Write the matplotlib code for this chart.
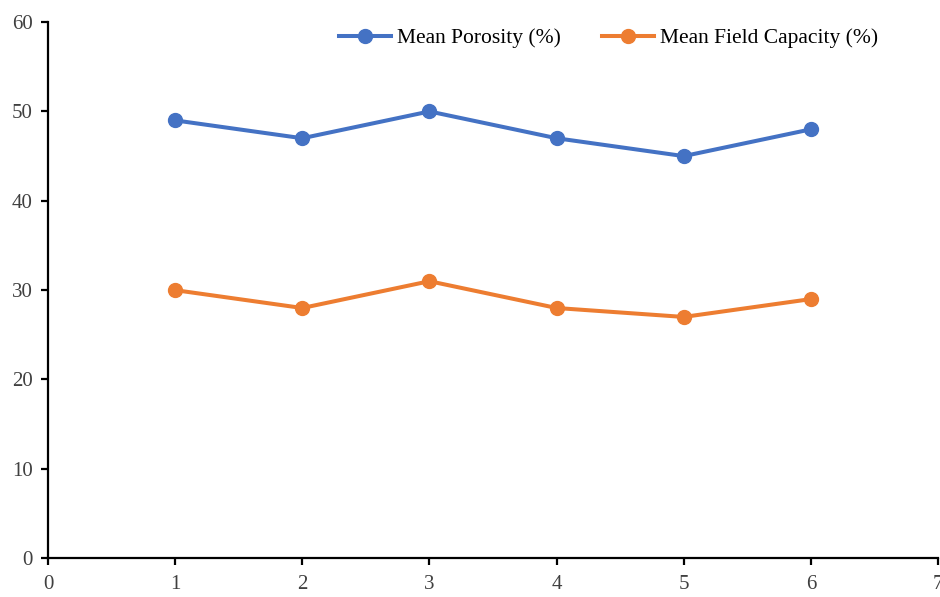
import matplotlib
matplotlib.use("Agg")
import matplotlib.pyplot as plt

plt.rcParams['font.family'] = ['Liberation Serif', 'DejaVu Serif']

samples = [1, 2, 3, 4, 5, 6]
porosity = [49, 47, 50, 47, 45, 48]
field_capacity = [30, 28, 31, 28, 27, 29]

fig = plt.figure(figsize=(9.4, 5.97), dpi=100)
ax = fig.add_axes([0.051, 0.065, 0.947, 0.898])

ax.plot(samples, porosity, color='#4472C4', lw=2.9, marker='o', ms=10,
        label='Mean Porosity (%)')
ax.plot(samples, field_capacity, color='#ED7D31', lw=2.9, marker='o', ms=10,
        label='Mean Field Capacity (%)')

ax.set_xlim(0, 7)
ax.set_ylim(0, 60)
ax.set_xticks(range(0, 8))
ax.set_yticks(range(0, 70, 10))
for s in ['top', 'right']:
    ax.spines[s].set_visible(False)
for s in ['left', 'bottom']:
    ax.spines[s].set_linewidth(1.6)
ax.tick_params(labelsize=15, width=1.6, length=5, colors='#000000', labelcolor='#404040')
ax.tick_params(axis='x', pad=7)
ax.tick_params(axis='y', pad=6)

ax.legend(loc='upper right', bbox_to_anchor=(0.955, 0.985), bbox_transform=fig.transFigure,
          ncol=2, frameon=False, fontsize=15.5, handlelength=2.4,
          handletextpad=0.3, columnspacing=1.9)

fig.savefig('out.png', dpi=100)
